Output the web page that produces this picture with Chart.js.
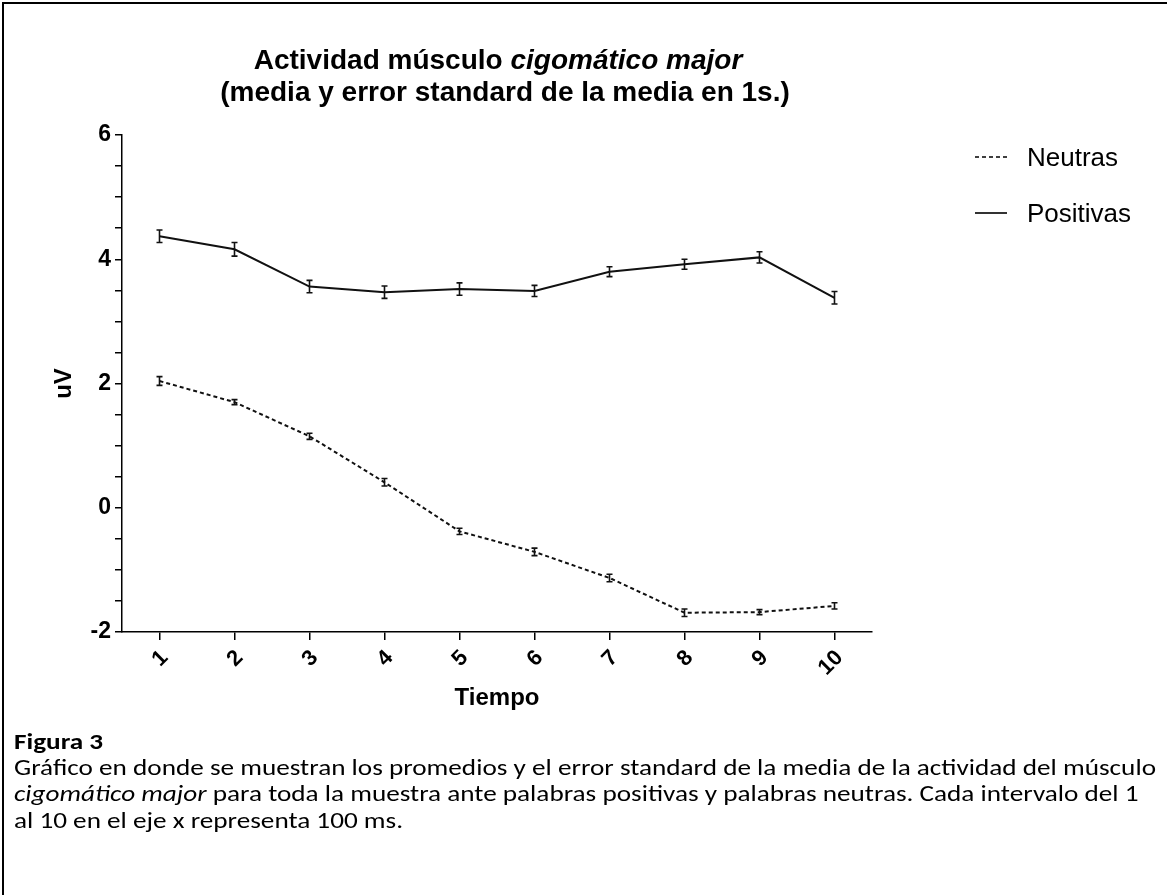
<!DOCTYPE html>
<html>
<head>
<meta charset="utf-8">
<script src="https://cdn.jsdelivr.net/npm/chart.js@4.4.0/dist/chart.umd.min.js"></script>
<style>
  html, body { margin: 0; padding: 0; background: #fff; }
  #wrap { position: relative; width: 1167px; height: 895px; overflow: hidden; background: #fff; }
  #frame { position: absolute; left: 2px; top: 2px; width: 1300px; height: 1000px;
           border-top: 2px solid #000; border-left: 2px solid #000; box-sizing: border-box; }
  #c { position: absolute; left: 0; top: 0; }
  .ttl { position: absolute; font-family: "Liberation Sans", Arial, sans-serif; font-weight: bold;
         font-size: 28px; color: #000; white-space: nowrap; line-height: 1; transform: translate(-50%, -50%); }
  .leg { position: absolute; font-family: "Liberation Sans", Arial, sans-serif; font-size: 26px; color: #000;
         white-space: nowrap; line-height: 1; }
  .legsvg { position: absolute; }
  #caption { position: absolute; left: 14px; top: 0; font-family: Carlito, Lato, "Open Sans", sans-serif;
             font-size: 23px; color: #000; transform-origin: 0 0; white-space: nowrap; }
  #caption div { position: absolute; left: 0; line-height: 1; transform: translateY(-50%); }
</style>
</head>
<body>
<div id="wrap">
  <div id="frame"></div>
  <canvas id="c" width="1167" height="895"></canvas>
  <div class="ttl" style="left:498px; top:60px;">Actividad músculo <i>cigomático major</i></div>
  <div class="ttl" style="left:505px; top:92px;">(media y error standard de la media en 1s.)</div>

  <svg class="legsvg" style="left:970px; top:147px;" width="44" height="20">
    <line x1="5" y1="10" x2="37" y2="10" stroke="#000" stroke-width="1.6" stroke-dasharray="4,3"/>
  </svg>
  <div class="leg" style="left:1027px; top:144px;">Neutras</div>
  <svg class="legsvg" style="left:970px; top:203px;" width="44" height="20">
    <line x1="5" y1="10" x2="37" y2="10" stroke="#000" stroke-width="1.6"/>
  </svg>
  <div class="leg" style="left:1027px; top:200px;">Positivas</div>

  <div id="caption">
    <div id="cap0" style="top:741px; font-weight:bold;">Figura 3</div>
    <div id="cap1" style="top:767px;">Gráfico en donde se muestran los promedios y el error standard de la media de la actividad del músculo</div>
    <div id="cap2" style="top:793px;"><i>cigomático major</i> para toda la muestra ante palabras positivas y palabras neutras. Cada intervalo del 1</div>
    <div id="cap3" style="top:820px;">al 10 en el eje x representa 100 ms.</div>
  </div>
</div>

<script>
// ---- data ----
const timeLabels    = [1, 2, 3, 4, 5, 6, 7, 8, 9, 10];
const neutrasMean   = [2.04, 1.70, 1.15, 0.41, -0.38, -0.71, -1.13, -1.69, -1.68, -1.58];
const neutrasSEM    = [0.07, 0.04, 0.05, 0.06, 0.05, 0.06, 0.06, 0.06, 0.04, 0.05];
const positivasMean = [4.37, 4.16, 3.56, 3.47, 3.52, 3.49, 3.80, 3.92, 4.03, 3.38];
const positivasSEM  = [0.10, 0.11, 0.10, 0.10, 0.10, 0.09, 0.08, 0.08, 0.09, 0.10];
const yLabelValues  = [-2, 0, 2, 4, 6];

// fit caption width to reference
(function(){
  const cap = document.getElementById('caption');
  const w = document.getElementById('cap1').getBoundingClientRect().width;
  const s = 1142 / w;
  cap.style.transform = 'scaleX(' + s + ')';
})();

const errorBars = {
  id: 'errorBars',
  afterDatasetsDraw(chart) {
    const { ctx, scales: { x, y } } = chart;
    chart.data.datasets.forEach((ds) => {
      ctx.save();
      ctx.strokeStyle = '#111';
      ctx.lineWidth = 1.6;
      ctx.setLineDash([]);
      ds.data.forEach((pt, j) => {
        const e = ds.errors[j];
        const px = x.getPixelForValue(pt.x);
        const y1 = y.getPixelForValue(pt.y + e);
        const y2 = y.getPixelForValue(pt.y - e);
        ctx.beginPath();
        ctx.moveTo(px, y1); ctx.lineTo(px, y2);
        ctx.moveTo(px - 3, y1); ctx.lineTo(px + 3, y1);
        ctx.moveTo(px - 3, y2); ctx.lineTo(px + 3, y2);
        ctx.stroke();
      });
      ctx.restore();
    });
  }
};

const toPoints = (arr) => arr.map((v, i) => ({ x: timeLabels[i], y: v }));

const target = { left: 122, right: 872, top: 135, bottom: 632 };
const axisFont = '"Liberation Sans", Arial, sans-serif';

const chart = new Chart(document.getElementById('c'), {
  type: 'line',
  data: {
    datasets: [
      {
        label: 'Neutras',
        data: toPoints(neutrasMean),
        errors: neutrasSEM,
        borderColor: '#111',
        borderWidth: 2,
        borderDash: [4, 3],
        pointRadius: 0,
        tension: 0,
        fill: false
      },
      {
        label: 'Positivas',
        data: toPoints(positivasMean),
        errors: positivasSEM,
        borderColor: '#111',
        borderWidth: 2,
        pointRadius: 0,
        tension: 0,
        fill: false
      }
    ]
  },
  options: {
    responsive: false,
    animation: false,
    devicePixelRatio: 1,
    layout: { padding: { left: 50, right: 295, top: 123, bottom: 183 } },
    plugins: { legend: { display: false }, tooltip: { enabled: false }, title: { display: false } },
    scales: {
      x: {
        type: 'linear',
        min: 0.5,
        max: 10.5,
        afterBuildTicks: (s) => { s.ticks = timeLabels.map(v => ({ value: v })); },
        afterFit: (s) => { s.height = 81; },
        ticks: {
          autoSkip: false,
          minRotation: 45,
          maxRotation: 45,
          padding: 5,
          labelOffset: 5,
          color: '#000',
          font: { family: axisFont, size: 22, weight: 'bold' },
          callback: (v) => String(v)
        },
        grid: { display: true, drawOnChartArea: false, drawTicks: true, tickLength: 8, color: '#000', lineWidth: 1.5 },
        border: { display: true, color: '#000', width: 1.5 },
        title: { display: true, text: 'Tiempo', color: '#000', padding: 0,
                 font: { family: axisFont, size: 24, weight: 'bold' } }
      },
      y: {
        type: 'linear',
        min: -2,
        max: 6,
        afterFit: (s) => { s.width = 72; },
        ticks: {
          stepSize: 0.5,
          padding: 4,
          color: '#000',
          font: { family: axisFont, size: 23, weight: 'bold' },
          callback: (v) => (yLabelValues.includes(v) ? String(v) : '')
        },
        grid: { display: true, drawOnChartArea: false, drawTicks: true, tickLength: 7, color: '#000', lineWidth: 1.5 },
        border: { display: true, color: '#000', width: 1.5 },
        title: { display: true, text: 'uV', color: '#000', padding: 0,
                 font: { family: axisFont, size: 24, weight: 'bold' } }
      }
    }
  },
  plugins: [errorBars]
});

// adjust padding so the plot area lands where the reference's does
for (let k = 0; k < 5; k++) {
  const a = chart.chartArea;
  const p = chart.options.layout.padding;
  const dl = target.left - a.left, dr = a.right - target.right;
  const dt = target.top - a.top, db = a.bottom - target.bottom;
  if (Math.abs(dl) + Math.abs(dr) + Math.abs(dt) + Math.abs(db) < 0.5) break;
  p.left += dl; p.right += dr; p.top += dt; p.bottom += db;
  chart.update('none');
}
</script>
</body>
</html>
